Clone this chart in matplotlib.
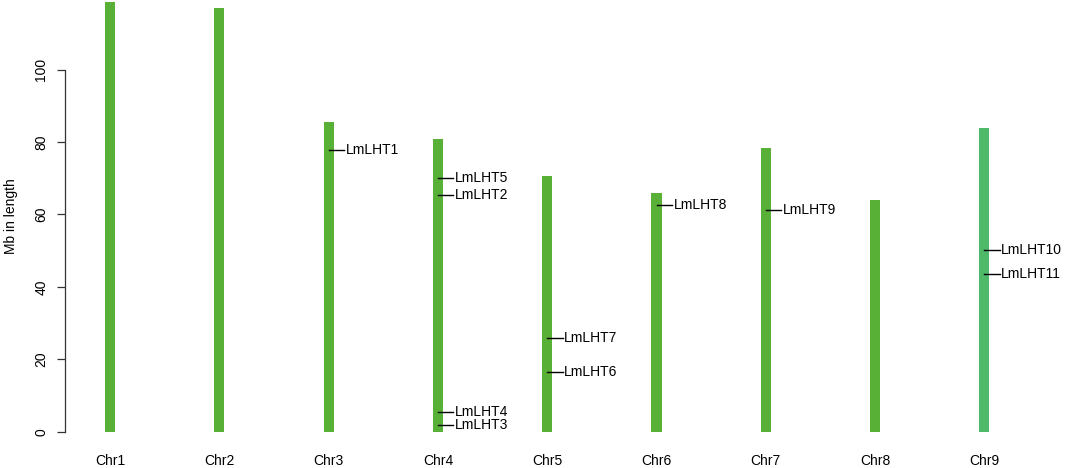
import matplotlib
matplotlib.use('Agg')
import matplotlib.pyplot as plt

# chromosome lengths (Mb)
chroms = ['Chr1', 'Chr2', 'Chr3', 'Chr4', 'Chr5', 'Chr6', 'Chr7', 'Chr8', 'Chr9']
lengths = [118.8, 117.1, 85.5, 80.9, 70.6, 65.9, 78.3, 64.1, 84.0]
bar_colors = ['#58b136'] * 8 + ['#4fb96a']

# gene positions
genes = ['LmLHT1', 'LmLHT5', 'LmLHT2', 'LmLHT4', 'LmLHT3', 'LmLHT7', 'LmLHT6',
         'LmLHT8', 'LmLHT9', 'LmLHT10', 'LmLHT11']
gene_chrom = [3, 4, 4, 4, 4, 5, 5, 6, 7, 9, 9]
gene_pos = [77.8, 70.1, 65.5, 5.4, 1.8, 25.9, 16.6, 62.5, 61.3, 50.2, 43.5]

plt.rcParams['font.family'] = ['Liberation Sans', 'DejaVu Sans']

fig = plt.figure(figsize=(10.65, 4.68), dpi=100)
ax = fig.add_axes([65 / 1065, (468 - 431.7) / 468, 1 - 65 / 1065, 431 / 468])

x = list(range(1, len(chroms) + 1))
ax.bar(x, lengths, width=0.092, color=bar_colors, clip_on=False, zorder=2)

for c, p, g in zip(gene_chrom, gene_pos, genes):
    ax.plot([c, c + 0.14], [p, p], color='black', lw=1, zorder=3, clip_on=False)
    ax.text(c + 0.155, p, g, fontsize=10, va='center', ha='left')

for xi, name in zip(x, chroms):
    ax.text(xi, -8.0, name, fontsize=10, ha='center', va='center')

ax.set_xlim(1 - 45 / 109.3, 1 + 955 / 109.3)
ax.set_ylim(0, 431 / 3.62)

for s in ['top', 'right', 'bottom']:
    ax.spines[s].set_visible(False)
ax.spines['left'].set_bounds(0, 100)
ax.spines['left'].set_color('#333333')
ax.spines['left'].set_linewidth(0.9)
ax.set_xticks([])
ax.set_yticks([0, 20, 40, 60, 80, 100])
ax.tick_params(axis='y', length=6, width=0.9, color='#333333', labelsize=10, pad=6)
for lbl in ax.get_yticklabels():
    lbl.set_rotation(90)
    lbl.set_va('center')
ax.set_ylabel('Mb in length', fontsize=10, labelpad=12)

fig.savefig('out.png', dpi=100)
